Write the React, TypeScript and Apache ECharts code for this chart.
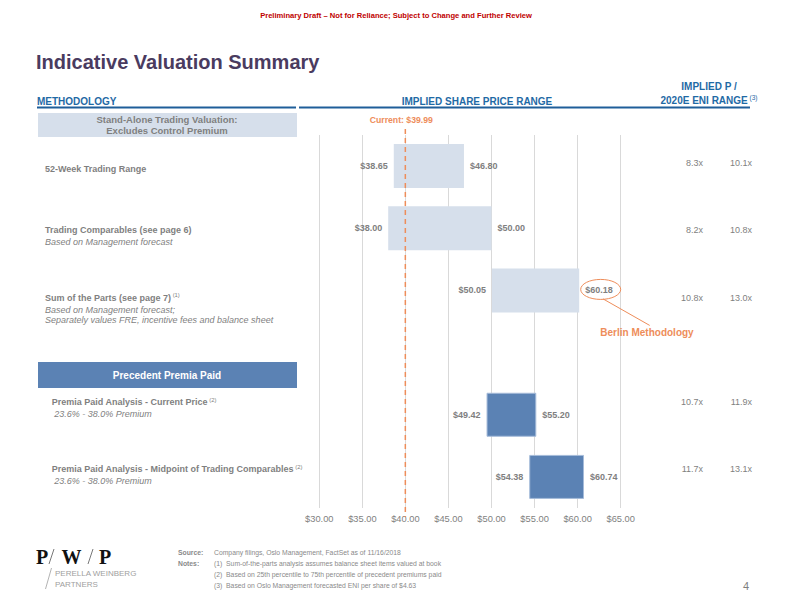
import React, { useEffect, useRef } from "react";
import * as echarts from "echarts";

// ---------- data ----------
const categories = [
  "52-Week Trading Range",
  "Trading Comparables",
  "Sum of the Parts",
  "Precedent Premia Paid",
  "Premia Paid - Current Price",
  "Premia Paid - Midpoint of Trading Comparables",
];
const lowValues: (number | null)[] = [38.65, 38.0, 50.05, null, 49.42, 54.38];
const highValues: (number | null)[] = [46.8, 50.0, 60.18, null, 55.2, 60.74];
const multipleLow = ["8.3x", "8.2x", "10.8x", "", "10.7x", "11.7x"];
const multipleHigh = ["10.1x", "10.8x", "13.0x", "", "11.9x", "13.1x"];
const barKinds = ["standalone", "standalone", "standalone", "", "premia", "premia"];
const currentPrice = 39.99;
const axisMin = 30;
const axisMax = 65;
const axisStep = 5;

const methodologyTitles = [
  "52-Week Trading Range",
  "Trading Comparables (see page 6)",
  "Sum of the Parts (see page 7)",
  "",
  "Premia Paid Analysis - Current Price",
  "Premia Paid Analysis - Midpoint of Trading Comparables",
];
const methodologySups = ["", "", "(1)", "", "(2)", "(2)"];
const methodologyNotes: string[][] = [
  [],
  ["Based on Management forecast"],
  ["Based on Management forecast;", "Separately values FRE, incentive fees and balance sheet"],
  [],
  [" 23.6% - 38.0% Premium"],
  [" 23.6% - 38.0% Premium"],
];
const footNotes = [
  "(1)  Sum-of-the-parts analysis assumes balance sheet items valued at book",
  "(2)  Based on 25th percentile to 75th percentile of precedent premiums paid",
  "(3)  Based on Oslo Management forecasted ENI per share of $4.63",
];

// ---------- layout (positions only) ----------
const labelX = [45, 45, 45, 0, 51.7, 51.7];
const labelY = [168.5, 230, 297.7, 0, 402.3, 469.3];
const noteX = [45, 45, 45, 0, 51.7, 51.7];
const multY = [163, 230, 297.7, 0, 401.7, 469.3];

const FONT = "'Liberation Sans', Arial, Helvetica, sans-serif";
const GREY = "#7F7F7F";
const ORANGE = "#EE8D5A";
const BLUE_HDR = "#1F6AA5";
const LIGHT = "#D6DFEB";
const DARK = "#5B82B4";

const money = (v: number) => "$" + v.toFixed(2);

function txt(
  text: string,
  x: number,
  y: number,
  o: { size?: number; bold?: boolean; italic?: boolean; fill?: string; align?: string; family?: string } = {}
) {
  const f = `${o.italic ? "italic " : ""}${o.bold ? "bold " : ""}${o.size || 9}px ${o.family || FONT}`;
  return {
    type: "text",
    silent: true,
    z: 20,
    style: {
      text,
      x,
      y,
      fill: o.fill || GREY,
      font: f,
      textAlign: o.align || "left",
      textVerticalAlign: "middle",
    },
  };
}

function supTxt(
  main: string,
  sup: string,
  x: number,
  y: number,
  o: { size?: number; fill?: string; align?: string; bold?: boolean }
) {
  const size = o.size || 9;
  return {
    type: "text",
    silent: true,
    z: 20,
    style: {
      text: sup ? `{a|${main}}{s| ${sup}}` : `{a|${main}}`,
      x,
      y,
      textAlign: o.align || "left",
      textVerticalAlign: "middle",
      rich: {
        a: {
          fontSize: size,
          fontWeight: o.bold === false ? "normal" : "bold",
          fontFamily: FONT,
          fill: o.fill || GREY,
          lineHeight: size + 2,
        },
        s: {
          fontSize: size * 0.65,
          fontWeight: "normal",
          fontFamily: FONT,
          fill: o.fill || GREY,
          verticalAlign: "top",
          lineHeight: size + 2,
        },
      },
    },
  };
}

export default function App() {
  const ref = useRef<HTMLDivElement>(null);

  useEffect(() => {
    if (!ref.current) return;
    const chart = echarts.init(ref.current, undefined, { renderer: "svg", width: 792, height: 612 });

    chart.setOption({
      animation: false,
      grid: { left: 319.3, right: 792 - 620.7, top: 135, bottom: 612 - 508, containLabel: false },
      xAxis: {
        type: "value",
        min: axisMin,
        max: axisMax,
        interval: axisStep,
        axisLine: { show: false },
        axisTick: { show: false },
        splitLine: { show: true, lineStyle: { color: "#D9D9D9", width: 1 } },
        axisLabel: {
          formatter: (v: number) => money(v),
          color: GREY,
          fontSize: 9.3,
          fontFamily: FONT,
          margin: 6,
        },
      },
      yAxis: { type: "category", data: categories, inverse: true, show: false },
      series: [
        {
          type: "bar",
          stack: "range",
          silent: true,
          barWidth: 44,
          data: lowValues.map((v) => (v == null ? "-" : v)),
          itemStyle: { color: "rgba(0,0,0,0)" },
          label: {
            show: true,
            position: "insideRight",
            distance: 6,
            formatter: (p: any) => {
              const v = lowValues[p.dataIndex];
              return v == null ? "" : money(v);
            },
            color: GREY,
            fontWeight: "bold",
            fontSize: 9,
            fontFamily: FONT,
          },
          z: 3,
        },
        {
          type: "bar",
          stack: "range",
          silent: true,
          barWidth: 44,
          data: highValues.map((h, i) => {
            const l = lowValues[i];
            if (h == null || l == null) return "-";
            const premia = barKinds[i] === "premia";
            return {
              value: +(h - l).toFixed(2),
              itemStyle: {
                color: premia ? DARK : LIGHT,
                borderColor: premia ? "#A5BBD9" : LIGHT,
                borderWidth: premia ? 1 : 0,
              },
            };
          }),
          label: {
            show: true,
            position: "right",
            distance: 6,
            formatter: (p: any) => {
              const v = highValues[p.dataIndex];
              return v == null ? "" : money(v);
            },
            color: GREY,
            fontWeight: "bold",
            fontSize: 9,
            fontFamily: FONT,
          },
          z: 3,
        },
      ],
    });

    const xCur = chart.convertToPixel({ xAxisIndex: 0 }, currentPrice) as number;
    const sotp = chart.convertToPixel({ gridIndex: 0 }, [highValues[2] as number, 2]) as number[];
    const ex = sotp[0] + 21.5;
    const ey = sotp[1] - 1;

    const g: any[] = [];

    // top banner and title
    g.push(
      txt("Preliminary Draft \u2013 Not for Reliance; Subject to Change and Further Review", 396, 15, {
        size: 7.6,
        bold: true,
        fill: "#C00000",
        align: "center",
      })
    );
    g.push(txt("Indicative Valuation Summary", 36, 62, { size: 20, bold: true, fill: "#4A3B5F" }));

    // column headers
    g.push(txt("METHODOLOGY", 37, 101, { size: 10, bold: true, fill: BLUE_HDR }));
    g.push(txt("IMPLIED SHARE PRICE RANGE", 477, 101, { size: 10, bold: true, fill: BLUE_HDR, align: "center" }));
    g.push(txt("IMPLIED P /", 709, 86.5, { size: 10, bold: true, fill: BLUE_HDR, align: "center" }));
    g.push(supTxt("2020E ENI RANGE", "(3)", 709, 100, { size: 10, fill: BLUE_HDR, align: "center" }));
    g.push({
      type: "line",
      silent: true,
      z: 15,
      shape: { x1: 37, y1: 107.5, x2: 296, y2: 107.5 },
      style: { stroke: "#1F5E99", lineWidth: 2 },
    });
    g.push({
      type: "line",
      silent: true,
      z: 15,
      shape: { x1: 299, y1: 107.5, x2: 750, y2: 107.5 },
      style: { stroke: "#1F5E99", lineWidth: 2 },
    });

    // section boxes
    g.push({
      type: "rect",
      silent: true,
      z: 10,
      shape: { x: 38, y: 113, width: 259, height: 24 },
      style: { fill: LIGHT },
    });
    g.push(txt("Stand-Alone Trading Valuation:", 167, 119.5, { size: 9.5, bold: true, align: "center" }));
    g.push(txt("Excludes Control Premium", 167, 130.5, { size: 9.5, bold: true, align: "center" }));
    g.push({
      type: "rect",
      silent: true,
      z: 10,
      shape: { x: 38, y: 362, width: 259, height: 26 },
      style: { fill: DARK },
    });
    g.push(txt("Precedent Premia Paid", 167, 375.5, { size: 10, bold: true, fill: "#FFFFFF", align: "center" }));

    // methodology labels
    methodologyTitles.forEach((t, i) => {
      if (!t) return;
      g.push(supTxt(t, methodologySups[i], labelX[i], labelY[i], { size: 9 }));
      methodologyNotes[i].forEach((n, k) => {
        g.push(txt(n, noteX[i], labelY[i] + 11.8 + k * 10.8, { size: 9, italic: true }));
      });
    });

    // multiples
    multipleLow.forEach((m, i) => {
      if (!m) return;
      g.push(txt(m, 703, multY[i], { size: 9, align: "right" }));
      g.push(txt(multipleHigh[i], 752, multY[i], { size: 9, align: "right" }));
    });

    // current price
    g.push(txt("Current: $" + currentPrice.toFixed(2), xCur - 4, 120, { size: 8.7, bold: true, fill: ORANGE, align: "center" }));
    g.push({
      type: "line",
      silent: true,
      z: 18,
      shape: { x1: xCur, y1: 129, x2: xCur, y2: 517 },
      style: { stroke: ORANGE, lineWidth: 1.5, lineDash: [5, 4] },
    });

    // Berlin methodology callout
    g.push({
      type: "ellipse",
      silent: true,
      z: 18,
      shape: { cx: ex, cy: ey, rx: 20, ry: 10 },
      style: { fill: "none", stroke: ORANGE, lineWidth: 1 },
    });
    g.push({
      type: "line",
      silent: true,
      z: 18,
      shape: { x1: ex + 2.4, y1: ey + 9.5, x2: ex + 49, y2: ey + 36 },
      style: { stroke: ORANGE, lineWidth: 1 },
    });
    g.push(txt("Berlin Methodology", 647, 332, { size: 10, bold: true, fill: ORANGE, align: "center" }));

    // logo
    const serif = "'Liberation Serif', 'DejaVu Serif', serif";
    g.push(txt("P", 36, 556.5, { size: 20, bold: true, fill: "#111111", family: serif }));
    g.push(txt("W", 61.5, 556.5, { size: 20, bold: true, fill: "#111111", family: serif }));
    g.push(txt("P", 99, 556.5, { size: 20, bold: true, fill: "#111111", family: serif }));
    g.push({
      type: "line",
      silent: true,
      z: 18,
      shape: { x1: 54, y1: 549, x2: 49, y2: 564 },
      style: { stroke: "#555555", lineWidth: 0.8 },
    });
    g.push({
      type: "line",
      silent: true,
      z: 18,
      shape: { x1: 93, y1: 549, x2: 88, y2: 564 },
      style: { stroke: "#555555", lineWidth: 0.8 },
    });
    g.push({
      type: "line",
      silent: true,
      z: 18,
      shape: { x1: 51.5, y1: 568, x2: 45.5, y2: 589 },
      style: { stroke: "#A0A0A0", lineWidth: 0.8 },
    });
    g.push(txt("PERELLA WEINBERG", 55, 573, { size: 8, fill: "#A0A0A0" }));
    g.push(txt("PARTNERS", 55, 584, { size: 8, fill: "#A0A0A0" }));

    // footer notes
    g.push(txt("Source:", 178, 552, { size: 6.8, bold: true, fill: "#8A8A8A" }));
    g.push(txt("Company filings, Oslo Management, FactSet as of 11/16/2018", 214, 552, { size: 6.8, fill: "#8A8A8A" }));
    g.push(txt("Notes:", 178, 563, { size: 6.8, bold: true, fill: "#8A8A8A" }));
    footNotes.forEach((n, i) => {
      g.push(txt(n, 214, 563 + i * 11, { size: 6.8, fill: "#8A8A8A" }));
    });
    g.push(txt("4", 749, 586, { size: 11, fill: "#7F7F7F", align: "right" }));

    chart.setOption({ graphic: { elements: g } });

    return () => {
      chart.dispose();
    };
  }, []);

  return (
    <div
      ref={ref}
      style={{ position: "absolute", left: 0, top: 0, width: 792, height: 612, background: "#FFFFFF" }}
    />
  );
}
